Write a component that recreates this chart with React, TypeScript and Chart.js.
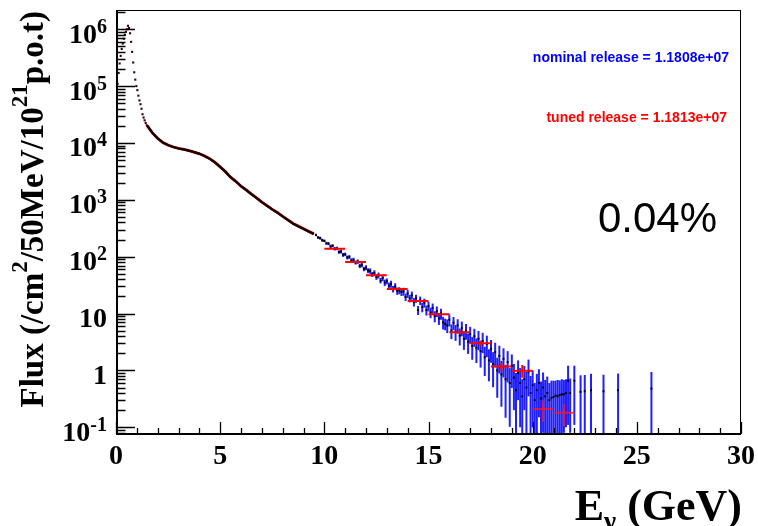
import React, { useEffect, useRef } from "react";
import { Chart, registerables } from "chart.js";

Chart.register(...registerables);

// ---------- DATA ----------
// Low-energy peak region, 50 MeV bins (GeV, flux)
const peakE = [0.025, 0.075, 0.125, 0.175, 0.225, 0.275, 0.325, 0.375, 0.425, 0.475, 0.525, 0.575, 0.625, 0.675, 0.725, 0.775, 0.825, 0.875, 0.925, 0.975, 1.025, 1.075, 1.125, 1.175, 1.225, 1.275, 1.325, 1.375, 1.425, 1.475];
const peakFlux = [5.0e4, 1.1e5, 1.7e5, 2.5e5, 3.4e5, 4.5e5, 5.6e5, 6.8e5, 8.0e5, 9.0e5, 1.0e6, 1.15e6, 1.05e6, 8.5e5, 6.0e5, 4.0e5, 2.6e5, 1.75e5, 1.3e5, 1.0e5, 8.5e4, 6.8e4, 5.6e4, 4.8e4, 4.0e4, 3.2e4, 2.8e4, 2.5e4, 2.25e4, 2.05e4];

// Smooth part of the spectrum (nominal and tuned, fine bins)
const curveE = [1.5, 1.75, 2.0, 2.25, 2.5, 2.75, 3.0, 3.25, 3.5, 3.75, 4.0, 4.25, 4.5, 4.75, 5.0, 5.25, 5.5, 5.75, 6.0, 6.25, 6.5, 6.75, 7.0, 7.25, 7.5, 7.75, 8.0, 8.25, 8.5, 8.75, 9.0, 9.25, 9.5];
const curveFlux = [2.0e4, 1.5e4, 1.2e4, 1.02e4, 9.1e3, 8.5e3, 8.0e3, 7.7e3, 7.3e3, 6.9e3, 6.5e3, 5.9e3, 5.25e3, 4.55e3, 3.8e3, 3.1e3, 2.5e3, 2.1e3, 1.74e3, 1.48e3, 1.26e3, 1.07e3, 910, 785, 680, 590, 510, 440, 380, 340, 310, 275, 250];
const tunedCurveFlux = [2.02e4, 1.5e4, 1.21e4, 1.02e4, 9.2e3, 8.5e3, 8.05e3, 7.7e3, 7.35e3, 6.9e3, 6.45e3, 5.9e3, 5.3e3, 4.55e3, 3.8e3, 3.15e3, 2.5e3, 2.12e3, 1.74e3, 1.5e3, 1.26e3, 1.08e3, 915, 790, 680, 600, 510, 445, 385, 345, 310, 280, 252];

// Nominal release, 0.1 GeV bins with statistical errors (relative)
const nomE = [9.6, 9.7, 9.8, 9.9, 10.0, 10.1, 10.2, 10.3, 10.4, 10.5, 10.6, 10.7, 10.8, 10.9, 11.0, 11.1, 11.2, 11.3, 11.4, 11.5, 11.6, 11.7, 11.8, 11.9, 12.0, 12.1, 12.2, 12.3, 12.4, 12.5, 12.6, 12.7, 12.8, 12.9, 13.0, 13.1, 13.2, 13.3, 13.4, 13.5, 13.6, 13.7, 13.8, 13.9, 14.0, 14.1, 14.2, 14.3, 14.4, 14.5, 14.6, 14.7, 14.8, 14.9, 15.0, 15.1, 15.2, 15.3, 15.4, 15.5, 15.6, 15.7, 15.8, 15.9, 16.0, 16.1, 16.2, 16.3, 16.4, 16.5, 16.6, 16.7, 16.8, 16.9, 17.0, 17.1, 17.2, 17.3, 17.4, 17.5, 17.6, 17.7, 17.8, 17.9, 18.0, 18.1, 18.2, 18.3, 18.4, 18.5, 18.6, 18.7, 18.8, 18.9, 19.0];
const nomFlux = [240, 218, 212, 195, 190, 172, 170, 152, 156, 138, 140, 121, 124, 108, 110, 97, 99, 86, 88, 79, 82, 69, 72, 61, 64, 57, 56, 49, 52, 44, 47, 38, 42, 35, 37, 31, 33, 27, 30, 25, 25.5, 24, 24.5, 19.5, 22.5, 18.5, 21, 16, 18.5, 11.5, 17, 13, 15.5, 11.5, 13.5, 10.5, 12.5, 9.0, 11.0, 8.2, 10.0, 7.0, 6.6, 6.2, 7.8, 5.0, 6.9, 4.8, 6.2, 4.1, 5.6, 3.6, 5.0, 3.2, 4.4, 2.7, 4.0, 2.5, 3.6, 2.2, 3.3, 1.7, 2.9, 1.5, 2.4, 1.3, 2.1, 1.0, 1.8, 0.85, 1.6, 0.7, 1.4, 0.6, 1.2];
const nomRelErr = [0.05, 0.05, 0.06, 0.06, 0.05, 0.06, 0.06, 0.07, 0.06, 0.07, 0.07, 0.07, 0.08, 0.08, 0.07, 0.08, 0.08, 0.09, 0.09, 0.08, 0.09, 0.09, 0.10, 0.09, 0.10, 0.10, 0.11, 0.10, 0.11, 0.11, 0.12, 0.11, 0.12, 0.13, 0.12, 0.13, 0.14, 0.13, 0.14, 0.15, 0.14, 0.15, 0.16, 0.15, 0.16, 0.15, 0.16, 0.17, 0.16, 0.18, 0.17, 0.19, 0.18, 0.20, 0.19, 0.21, 0.20, 0.22, 0.21, 0.23, 0.22, 0.25, 0.23, 0.27, 0.24, 0.29, 0.26, 0.31, 0.28, 0.33, 0.29, 0.36, 0.31, 0.39, 0.33, 0.43, 0.35, 0.46, 0.37, 0.49, 0.39, 0.53, 0.41, 0.57, 0.43, 0.61, 0.46, 0.67, 0.51, 0.73, 0.53, 0.79, 0.56, 0.83, 0.59];

// Nominal release, sparse high-energy tail (absolute errors)
const tailE = [19.1, 19.2, 19.3, 19.4, 19.5, 19.6, 19.7, 19.8, 19.9, 20.0, 20.1, 20.2, 20.3, 20.4, 20.5, 20.6, 20.7, 20.8, 20.9, 21.0, 21.1, 21.2, 21.3, 21.4, 21.5, 21.6, 21.7, 21.8, 22.0, 22.3, 22.5, 22.8, 23.4, 24.1, 25.7];
const tailFlux = [0.75, 0.45, 0.9, 0.6, 0.35, 0.7, 0.5, 0.95, 0.4, 0.55, 0.3, 0.45, 0.6, 0.32, 0.5, 0.35, 0.4, 0.3, 0.33, 0.34, 0.36, 0.35, 0.37, 0.38, 0.38, 0.4, 0.66, 0.4, 0.66, 0.42, 0.43, 0.45, 0.43, 0.45, 0.48];
const tailErr = [0.55, 0.45, 0.6, 0.5, 0.35, 0.5, 0.45, 0.6, 0.4, 0.45, 0.3, 0.42, 0.45, 0.32, 0.42, 0.33, 0.38, 0.3, 0.33, 0.32, 0.3, 0.33, 0.3, 0.32, 0.3, 0.3, 0.55, 0.32, 0.55, 0.4, 0.4, 0.42, 0.41, 0.43, 0.46];

// Tuned release, 1 GeV bins
const tunedLo = [10, 11, 12, 13, 14, 15, 16, 17, 18, 19, 20, 21];
const tunedHi = [11, 12, 13, 14, 15, 16, 17, 18, 19, 20, 21, 22];
const tunedFlux = [138, 81, 47, 27, 16.6, 9.7, 4.7, 3.0, 1.17, 0.99, 0.21, 0.18];
const tunedErr = [3, 2, 1.3, 0.9, 0.7, 0.5, 0.35, 0.35, 0.2, 0.25, 0.085, 0.075];

// Axes
const xTicks = [0, 5, 10, 15, 20, 25, 30];
const xTickLabels = ["0", "5", "10", "15", "20", "25", "30"];
const yTicks = [0.1, 1, 10, 100, 1e3, 1e4, 1e5, 1e6];
const yTickLabels = ["10^-1", "1", "10", "10^2", "10^3", "10^4", "10^5", "10^6"];
const X_MIN = 0;
const X_MAX = 30;
const Y_MIN = 0.0762;
const Y_MAX = 2.18e6;

const nominalText = "nominal release = 1.1808e+07";
const tunedText = "tuned release = 1.1813e+07";
const diffText = "0.04%";

// ---------- DRAW HELPERS ----------
const SERIF = "'Liberation Serif', 'Times New Roman', Times, serif";
const SANS = "'Liberation Sans', Arial, Helvetica, sans-serif";

type Seg = { t: string; sup?: boolean; sub?: boolean };

function drawRich(
  ctx: CanvasRenderingContext2D,
  segs: Seg[],
  x: number,
  y: number,
  size: number,
  family: string,
  weight: string,
  align: "left" | "right" | "center",
  supScale: number,
  supRaise: number
) {
  const fontFor = (s: Seg) =>
    `${weight} ${s.sup || s.sub ? Math.round(size * supScale) : size}px ${family}`;
  let total = 0;
  for (const s of segs) {
    ctx.font = fontFor(s);
    total += ctx.measureText(s.t).width;
  }
  let cx = align === "right" ? x - total : align === "center" ? x - total / 2 : x;
  ctx.textAlign = "left";
  ctx.textBaseline = "alphabetic";
  for (const s of segs) {
    ctx.font = fontFor(s);
    const dy = s.sup ? -size * supRaise : s.sub ? size * 0.22 : 0;
    ctx.fillText(s.t, cx, y + dy);
    cx += ctx.measureText(s.t).width;
  }
}

function parseLabel(lbl: string): Seg[] {
  const i = lbl.indexOf("^");
  if (i < 0) return [{ t: lbl }];
  return [{ t: lbl.slice(0, i) }, { t: lbl.slice(i + 1), sup: true }];
}

const rootPlugin = {
  id: "rootStyle",
  beforeDatasetsDraw(chart: any) {
    const { ctx, chartArea: a, scales } = chart;
    const xs = scales.x;
    const ys = scales.y;
    ctx.save();
    ctx.beginPath();
    ctx.rect(a.left, a.top, a.right - a.left, a.bottom - a.top);
    ctx.clip();
    ctx.strokeStyle = "rgba(0,0,255,0.88)";
    ctx.lineWidth = 2;
    const bar = (e: number, v: number, err: number) => {
      const px = xs.getPixelForValue(e);
      const top = ys.getPixelForValue(v + err);
      const lo = v - err;
      const bot = lo > 0 ? ys.getPixelForValue(lo) : a.bottom + 2;
      ctx.beginPath();
      ctx.moveTo(px, Math.min(bot, a.bottom + 2));
      ctx.lineTo(px, top);
      ctx.stroke();
    };
    nomE.forEach((e, i) => bar(e, nomFlux[i], nomFlux[i] * nomRelErr[i]));
    tailE.forEach((e, i) => bar(e, tailFlux[i], tailErr[i]));
    ctx.restore();
  },
  afterDatasetsDraw(chart: any) {
    const { ctx, chartArea: a, scales } = chart;
    const xs = scales.x;
    const ys = scales.y;
    ctx.save();
    ctx.beginPath();
    ctx.rect(a.left, a.top, a.right - a.left, a.bottom - a.top);
    ctx.clip();
    ctx.lineWidth = 2;
    tunedLo.forEach((lo, i) => {
      ctx.strokeStyle = i >= 10 ? "rgba(255,20,40,0.8)" : "#ff0000";
      const y = ys.getPixelForValue(tunedFlux[i]);
      const xl = xs.getPixelForValue(lo);
      const xh = xs.getPixelForValue(tunedHi[i]);
      const xc = xs.getPixelForValue((lo + tunedHi[i]) / 2);
      ctx.beginPath();
      ctx.moveTo(xl, y);
      ctx.lineTo(xh, y);
      ctx.moveTo(xc, ys.getPixelForValue(tunedFlux[i] + tunedErr[i]));
      ctx.lineTo(xc, ys.getPixelForValue(Math.max(tunedFlux[i] - tunedErr[i], Y_MIN)));
      ctx.stroke();
    });
    ctx.restore();
  },
  afterDraw(chart: any) {
    const { ctx, chartArea: a, scales } = chart;
    const xs = scales.x;
    const ys = scales.y;
    ctx.save();
    // frame
    ctx.strokeStyle = "#000";
    ctx.lineWidth = 1;
    ctx.strokeRect(a.left + 0.5, a.top + 0.5, a.right - a.left - 1, a.bottom - a.top - 1);
    ctx.lineWidth = 2;
    ctx.beginPath();
    ctx.moveTo(a.left + 1, a.top);
    ctx.lineTo(a.left + 1, a.bottom);
    ctx.lineTo(a.right, a.bottom);
    ctx.stroke();

    // y ticks
    ctx.lineWidth = 1.3;
    ctx.beginPath();
    yTicks.forEach((t) => {
      const py = Math.round(ys.getPixelForValue(t)) + 0.5;
      ctx.moveTo(a.left, py);
      ctx.lineTo(a.left + 19, py);
      for (let m = 2; m <= 9; m++) {
        const v = t * m;
        if (v > Y_MAX) break;
        const pm = Math.round(ys.getPixelForValue(v)) + 0.5;
        ctx.moveTo(a.left, pm);
        ctx.lineTo(a.left + 9.5, pm);
      }
    });
    [0.08, 0.09].forEach((v) => {
      if (v < Y_MIN) return;
      const pm = Math.round(ys.getPixelForValue(v)) + 0.5;
      ctx.moveTo(a.left, pm);
      ctx.lineTo(a.left + 9.5, pm);
    });
    // x ticks
    for (let v = X_MIN; v <= X_MAX; v += 1) {
      const px = Math.round(xs.getPixelForValue(v)) + 0.5;
      const major = v % 5 === 0;
      ctx.moveTo(px, a.bottom);
      ctx.lineTo(px, a.bottom - (major ? 12 : 6));
    }
    ctx.stroke();

    // tick labels
    ctx.fillStyle = "#000";
    yTicks.forEach((t, i) => {
      const py = ys.getPixelForValue(t);
      drawRich(ctx, parseLabel(yTickLabels[i]), 107, py + 13.5, 28, SERIF, "bold", "right", 0.72, 0.36);
    });
    xTicks.forEach((t, i) => {
      const px = xs.getPixelForValue(t);
      drawRich(ctx, [{ t: xTickLabels[i] }], px, 464, 28, SERIF, "bold", "center", 0.74, 0.36);
    });

    // axis titles
    drawRich(
      ctx,
      [{ t: "E" }, { t: "ν", sub: true }, { t: " (GeV)" }],
      742,
      520,
      44,
      SERIF,
      "bold",
      "right",
      0.62,
      0.4
    );
    ctx.save();
    ctx.translate(43, 11);
    ctx.rotate(-Math.PI / 2);
    drawRich(
      ctx,
      [{ t: "Flux (/cm" }, { t: "2", sup: true }, { t: "/50MeV/10" }, { t: "21", sup: true }, { t: "p.o.t)" }],
      0,
      0,
      33,
      SERIF,
      "bold",
      "right",
      0.7,
      0.48
    );
    ctx.restore();

    // annotations
    ctx.textAlign = "right";
    ctx.textBaseline = "alphabetic";
    ctx.font = `bold 14px ${SANS}`;
    ctx.fillStyle = "#0000ff";
    ctx.fillText(nominalText, 729, 62);
    ctx.fillStyle = "#ff0000";
    ctx.fillText(tunedText, 727, 122);
    ctx.fillStyle = "#000";
    ctx.font = `42px ${SANS}`;
    ctx.fillText(diffText, 717, 232);
    ctx.restore();
  },
};

export default function App() {
  const canvasRef = useRef<HTMLCanvasElement | null>(null);

  useEffect(() => {
    const canvas = canvasRef.current;
    if (!canvas) return;
    const chart = new Chart(canvas, {
      type: "scatter",
      data: {
        datasets: [
          {
            data: peakE.map((e, i) => ({ x: e, y: peakFlux[i] })),
            pointStyle: "rect",
            pointRadius: 1.5,
            backgroundColor: "#3a0010",
            borderWidth: 0,
          },
          {
            data: nomE.map((e, i) => ({ x: e, y: nomFlux[i] })),
            pointStyle: "rect",
            pointRadius: 1.4,
            backgroundColor: "#000",
            borderWidth: 0,
          },
          {
            data: tailE.map((e, i) => ({ x: e, y: tailFlux[i] })),
            pointStyle: "rect",
            pointRadius: 1.4,
            backgroundColor: "#000",
            borderWidth: 0,
          },
          {
            type: "line",
            data: curveE.map((e, i) => ({ x: e, y: curveFlux[i] })),
            borderColor: "#100000",
            borderWidth: 2.2,
            pointRadius: 0,
            tension: 0,
          } as any,
          {
            type: "line",
            data: curveE.map((e, i) => ({ x: e, y: tunedCurveFlux[i] })),
            borderColor: "#c00000",
            borderWidth: 2.8,
            pointRadius: 0,
            tension: 0,
          } as any,
        ],
      },
      options: {
        animation: false,
        responsive: false,
        devicePixelRatio: 1,
        events: [],
        layout: { padding: { left: 116, top: 10, right: 17, bottom: 92 } },
        plugins: { legend: { display: false }, tooltip: { enabled: false } },
        scales: {
          x: { type: "linear", min: X_MIN, max: X_MAX, display: false },
          y: { type: "logarithmic", min: Y_MIN, max: Y_MAX, display: false },
        },
      },
      plugins: [rootPlugin],
    });
    return () => chart.destroy();
  }, []);

  return (
    <div style={{ position: "fixed", left: 0, top: 0, width: 758, height: 526, background: "#fff" }}>
      <canvas ref={canvasRef} width={758} height={526} style={{ display: "block" }} />
    </div>
  );
}
